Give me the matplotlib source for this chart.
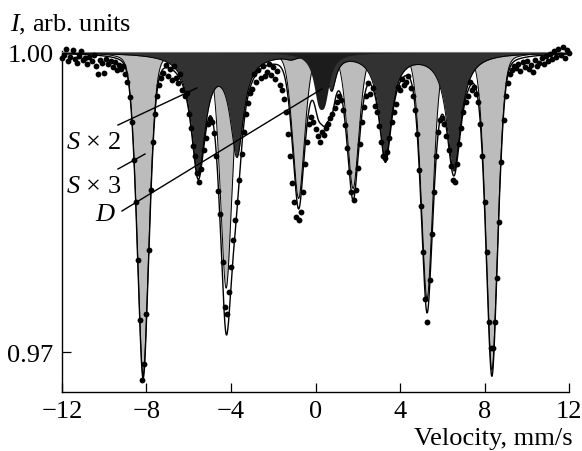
import matplotlib
matplotlib.use("Agg")
import matplotlib.pyplot as plt
import numpy as np
from matplotlib.ticker import FormatStrFormatter

plt.rcParams["font.family"] = "Liberation Serif"
plt.rcParams["mathtext.fontset"] = "custom"
plt.rcParams["mathtext.it"] = "Liberation Serif:italic"
plt.rcParams["mathtext.rm"] = "Liberation Serif"

# Fitted sub-spectra: line positions (mm/s), depths (fraction of baseline), widths
s3_pos = [-8.16, -4.23, -0.80, 1.78, 5.28, 8.35]
s3_depth = [0.0322, 0.0235, 0.0145, 0.0135, 0.0245, 0.0317]
s2_pos = [-5.55, -3.72, -1.16, 0.76, 3.31, 6.55]
s2_depth = [0.0119, 0.0099, 0.0003, 0.0035, 0.0104, 0.0117]
s2_hwhm = [0.40, 0.38, 0.30, 0.25, 0.36, 0.40]
d_pos = [0.13, 0.43]
d_depth = [0.00367, 0.00367]
d_hwhm = [0.28, 0.28]

# Measured points, one per channel from -12 to 12 mm/s
vel_start, vel_stop = -12.0, 12.0
counts = [
    0.9994, 0.9997, 1.0003, 0.9991, 0.9995, 1.0002, 0.9993, 0.9989, 0.9996, 1.0001,
    0.9992, 0.9994, 0.9988, 0.9995, 0.9991, 0.9997, 0.9986, 0.9978, 0.9992, 0.9989,
    0.9979, 0.9993, 0.9988, 0.9991, 0.9985, 0.9990, 0.9982, 0.9987, 0.9983, 0.9986,
    0.9978, 0.9970, 0.9955, 0.9930, 0.9892, 0.9850, 0.9792, 0.9732, 0.9672, 0.9688,
    0.9738, 0.9802, 0.9862, 0.9910, 0.9938, 0.9956, 0.9967, 0.9974, 0.9979, 0.9987,
    0.9976, 0.9983, 0.9972, 0.9986, 0.9974, 0.9969, 0.9978, 0.9962, 0.9956, 0.9959,
    0.9938, 0.9924, 0.9906, 0.9896, 0.9879, 0.9870, 0.9883, 0.9902, 0.9914, 0.9928,
    0.9933, 0.9930, 0.9919, 0.9896, 0.9861, 0.9838, 0.9790, 0.9745, 0.9738, 0.9760,
    0.9785, 0.9812, 0.9832, 0.9850, 0.9872, 0.9898, 0.9920, 0.9938, 0.9949, 0.9959,
    0.9963, 0.9978, 0.9970, 0.9982, 0.9974, 0.9986, 0.9976, 0.9980, 0.9988, 0.9977,
    0.9985, 0.9973, 0.9981, 0.9967, 0.9962, 0.9953, 0.9940, 0.9918, 0.9896, 0.9869,
    0.9850, 0.9835, 0.9832, 0.9840, 0.9860, 0.9888, 0.9910, 0.9928, 0.9935, 0.9930,
    0.9923, 0.9916, 0.9910, 0.9920, 0.9917, 0.9924, 0.9928, 0.9934, 0.9938, 0.9944,
    0.9950, 0.9956, 0.9952, 0.9942, 0.9927, 0.9904, 0.9880, 0.9860, 0.9852, 0.9862,
    0.9884, 0.9908, 0.9930, 0.9945, 0.9956, 0.9969, 0.9958, 0.9964, 0.9946, 0.9940,
    0.9926, 0.9910, 0.9896, 0.9894, 0.9900, 0.9914, 0.9930, 0.9940, 0.9948, 0.9965,
    0.9962, 0.9973, 0.9967, 0.9970, 0.9976, 0.9964, 0.9956, 0.9942, 0.9918, 0.9882,
    0.9846, 0.9800, 0.9753, 0.9730, 0.9772, 0.9818, 0.9860, 0.9896, 0.9920, 0.9932,
    0.9934, 0.9928, 0.9916, 0.9902, 0.9886, 0.9872, 0.9870, 0.9888, 0.9908, 0.9924,
    0.9940, 0.9950, 0.9956, 0.9970, 0.9962, 0.9965, 0.9958, 0.9950, 0.9928, 0.9896,
    0.9850, 0.9800, 0.9730, 0.9704, 0.9704, 0.9730, 0.9774, 0.9830, 0.9890, 0.9932,
    0.9956, 0.9969, 0.9978, 0.9982, 0.9986, 0.9984, 0.9988, 0.9981, 0.9990, 0.9985,
    0.9991, 0.9983, 0.9987, 0.9980, 0.9992, 0.9986, 0.9989, 0.9994, 0.9988, 0.9996,
    0.9991, 0.9998, 0.9993, 1.0001, 0.9995, 1.0003, 0.9997, 1.0005, 0.9994, 1.0002,
    0.9999,
]
velocity = np.linspace(vel_start, vel_stop, len(counts))


def sextet_light(v):
    out = np.zeros_like(v)
    for p, a in zip(s3_pos, s3_depth):
        out += a * (0.3 / (1 + ((v - p) / 0.25) ** 2)
                    + 0.7 * np.exp(-((v - p) ** 2) / (2 * 0.3 ** 2)))
    return out


def lorentz_sum(v, pos, depth, hwhm):
    out = np.zeros_like(v)
    for p, a, h in zip(pos, depth, hwhm):
        out += a / (1 + ((v - p) / h) ** 2)
    return out


v = np.linspace(-12, 12, 2401)
s3 = sextet_light(v)
s2 = lorentz_sum(v, s2_pos, s2_depth, s2_hwhm)
dd = lorentz_sum(v, d_pos, d_depth, d_hwhm)
total = 1 - s3 - s2 - dd

fig = plt.figure(figsize=(5.82, 4.52), dpi=100)
ax = fig.add_axes([0.1065, 0.1312, 0.8712, 0.7538])

# Sub-spectra as filled areas below the baseline (light under dark)
ax.fill_between(v, 1, 1 - s3, color="#bcbcbc", lw=0, zorder=1)
ax.plot(v, 1 - s3, color="black", lw=0.7, zorder=1.5)
ax.fill_between(v, 1, 1 - s2, color="#323232", lw=0, zorder=2)
ax.plot(v, 1 - s2, color="black", lw=0.7, zorder=2.5)
ax.fill_between(v, 1, 1 - dd, color="#1c1c1c", lw=0, zorder=3)
ax.axhline(1.0, color="#777777", lw=0.8, zorder=3.7)
ax.plot(v, total, color="black", lw=1.0, zorder=4)

# Measured spectrum
ax.plot(velocity, counts, "o", color="black", ms=4.2, mew=0,
        clip_on=False, zorder=5)

# Component labels with leader lines
ax.text(-10.52, 0.99104, "$S$ × 2", fontsize=19, ha="center", va="center")
ax.text(-10.52, 0.98667, "$S$ × 3", fontsize=19, ha="center", va="center")
ax.text(-9.93, 0.98384, "$D$", fontsize=19, ha="center", va="center")
ax.plot([-9.35, -5.61], [0.99274, 0.99645], color="black", lw=1.0, zorder=6)
ax.plot([-9.35, -8.07], [0.98834, 0.98984], color="black", lw=1.0, zorder=6)
ax.plot([-9.16, 0.30], [0.98414, 0.99635], color="black", lw=1.0, zorder=6)

ax.set_xlim(-12, 12)
ax.set_ylim(0.96606, 1.00015)
ax.set_xticks([-12, -8, -4, 0, 4, 8, 12])
ax.set_yticks([0.97, 1.00])
ax.yaxis.set_major_formatter(FormatStrFormatter("%.2f"))
ax.tick_params(direction="in", length=6.5, width=0.9, labelsize=19, pad=6)
ax.spines["top"].set_visible(False)
ax.spines["right"].set_visible(False)
ax.spines["left"].set_linewidth(1.0)
ax.spines["bottom"].set_linewidth(1.0)

fig.text(0.0172, 0.9447, "$I$, arb. units", fontsize=19, ha="left", va="center")
fig.text(0.9845, 0.0288, "Velocity, mm/s", fontsize=19, ha="right", va="center")

fig.savefig("out.png", dpi=100)
